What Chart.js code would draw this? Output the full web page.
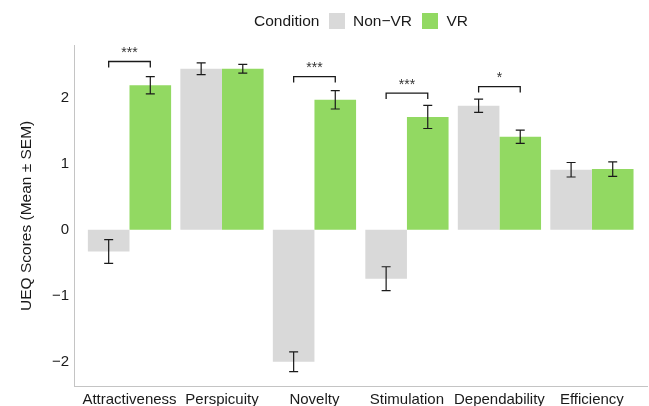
<!DOCTYPE html>
<html>
<head>
<meta charset="utf-8">
<script src="https://cdn.jsdelivr.net/npm/chart.js@4/dist/chart.umd.min.js"></script>
<style>
  html, body { margin: 0; padding: 0; background: #fff; }
  #wrap { position: relative; width: 649px; height: 406px; }
  #legend {
    position: absolute; left: 254px; top: 12px; height: 17px;
    display: flex; align-items: center;
    font: 15.5px "Liberation Sans", Arial, sans-serif; color: #1a1a1a;
  }
  #legend .sw { width: 16px; height: 16px; display: inline-block; }
</style>
</head>
<body>
<div id="wrap">
  <canvas id="ueqChart" width="649" height="406"></canvas>
  <div id="legend"></div>
</div>
<script>
(function(){
// UEQ scales
const categories = ['Attractiveness', 'Perspicuity', 'Novelty', 'Stimulation', 'Dependability', 'Efficiency'];
// mean scores per condition
const nonVrMean = [-0.33, 2.44, -2.00, -0.74, 1.88, 0.91];
const vrMean    = [ 2.19, 2.44,  1.97,  1.71, 1.41, 0.92];
// standard error of the mean
const nonVrSem  = [0.18, 0.09, 0.15, 0.18, 0.10, 0.11];
const vrSem     = [0.13, 0.065, 0.14, 0.175, 0.10, 0.11];
// significance brackets: category index, label, bracket height
const sigIndex  = [0, 2, 3, 4];
const sigLabels = ['***', '***', '***', '*'];
const sigHeight = [2.55, 2.32, 2.07, 2.17];
const yTicks    = [-2, -1, 0, 1, 2];

const GREY = '#d9d9d9';
const GREEN = '#92d962';
const FONT = '"Liberation Sans", Arial, sans-serif';

// legend: title + swatches, laid out inline
const legend = document.getElementById('legend');
legend.innerHTML =
  '<span>Condition</span>' +
  '<span class="sw" style="background:' + GREY + ';margin-left:9.5px"></span>' +
  '<span style="margin-left:8px">Non\u2212VR</span>' +
  '<span class="sw" style="background:' + GREEN + ';margin-left:9.5px"></span>' +
  '<span style="margin-left:9px">VR</span>';

// error bars and significance brackets on top of the bars
const annotations = {
  id: 'annotations',
  afterDatasetsDraw(chart) {
    const ctx = chart.ctx;
    const y = chart.scales.y;
    const sems = [nonVrSem, vrSem];
    const means = [nonVrMean, vrMean];
    ctx.save();
    ctx.strokeStyle = '#1a1a1a';
    ctx.lineWidth = 1.2;
    for (let d = 0; d < 2; d++) {
      const meta = chart.getDatasetMeta(d);
      meta.data.forEach((bar, i) => {
        const top = y.getPixelForValue(means[d][i] + sems[d][i]);
        const bot = y.getPixelForValue(means[d][i] - sems[d][i]);
        const cap = 4.5;
        ctx.beginPath();
        ctx.moveTo(bar.x, top); ctx.lineTo(bar.x, bot);
        ctx.moveTo(bar.x - cap, top); ctx.lineTo(bar.x + cap, top);
        ctx.moveTo(bar.x - cap, bot); ctx.lineTo(bar.x + cap, bot);
        ctx.stroke();
      });
    }
    ctx.lineWidth = 1.3;
    ctx.fillStyle = '#333';
    ctx.font = '14px ' + FONT;
    ctx.textAlign = 'center';
    ctx.textBaseline = 'alphabetic';
    sigIndex.forEach((ci, k) => {
      const x1 = chart.getDatasetMeta(0).data[ci].x;
      const x2 = chart.getDatasetMeta(1).data[ci].x;
      const yb = y.getPixelForValue(sigHeight[k]);
      const yl = y.getPixelForValue(sigHeight[k] - 0.09);
      ctx.beginPath();
      ctx.moveTo(x1, yl); ctx.lineTo(x1, yb); ctx.lineTo(x2, yb); ctx.lineTo(x2, yl);
      ctx.stroke();
      ctx.fillText(sigLabels[k], (x1 + x2) / 2, yb - 4.5);
    });
    ctx.restore();
  }
};

new Chart(document.getElementById('ueqChart').getContext('2d'), {
  type: 'bar',
  data: {
    datasets: [{
      label: 'Non\u2212VR',
      data: nonVrMean.map((v, i) => ({ x: i, y: v })),
      backgroundColor: GREY,
      borderWidth: 0
    }, {
      label: 'VR',
      data: vrMean.map((v, i) => ({ x: i, y: v })),
      backgroundColor: GREEN,
      borderWidth: 0
    }]
  },
  options: {
    responsive: false,
    animation: false,
    layout: { padding: { top: 45, right: 1.6, left: 0, bottom: 0 } },
    datasets: { bar: { barPercentage: 1.0, categoryPercentage: 0.9 } },
    scales: {
      x: {
        type: 'linear',
        offset: false,
        min: -0.6, max: 5.6,
        grid: { display: false, drawTicks: false, offset: false },
        border: { display: true, color: '#c4c4c4', width: 1 },
        afterBuildTicks: s => { s.ticks = categories.map((_, i) => ({ value: i })); },
        afterFit: s => { s.height = 19.3; },
        ticks: {
          autoSkip: false, maxRotation: 0, padding: 4,
          color: '#1a1a1a', font: { family: FONT, size: 15 },
          callback: v => categories[v]
        }
      },
      y: {
        min: -2.377, max: 2.80,
        grid: { display: false, drawTicks: false },
        border: { display: true, color: '#c4c4c4', width: 1 },
        afterBuildTicks: s => { s.ticks = yTicks.map(v => ({ value: v })); },
        afterFit: s => { s.width = 74; },
        ticks: {
          padding: 5, color: '#1a1a1a', font: { family: FONT, size: 15 },
          callback: v => String(v).replace('-', '\u2212')
        },
        title: {
          display: true, text: 'UEQ Scores (Mean \u00b1 SEM)',
          color: '#1a1a1a', font: { family: FONT, size: 15.5 },
          padding: { top: 17.5, bottom: 0 }
        }
      }
    },
    plugins: { legend: { display: false }, tooltip: { enabled: false } }
  },
  plugins: [annotations]
});
})();
</script>
</body>
</html>
